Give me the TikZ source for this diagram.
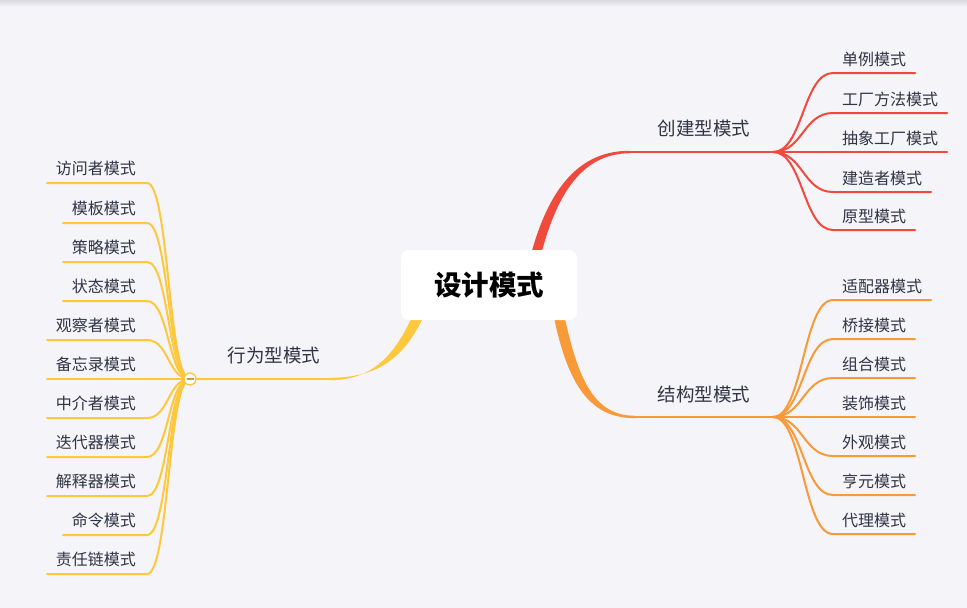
\documentclass[tikz,border=0pt]{standalone}
\usepackage{fontspec}
\newfontfamily\cjk{Noto Sans CJK SC}
\definecolor{bgc}{HTML}{F5F4F9}
\definecolor{redc}{HTML}{EF4A3C}
\definecolor{orangec}{HTML}{F89A38}
\definecolor{yellowc}{HTML}{FEC83C}
\definecolor{txtc}{HTML}{2E3544}
\definecolor{shadowc}{HTML}{DCDAE1}
\begin{document}
\begin{tikzpicture}[x=1pt,y=-1pt,
  leaflbl/.style={inner sep=0pt,font=\cjk\fontsize{16}{19}\selectfont,text=txtc},
  toplbl/.style={inner sep=0pt,font=\cjk\fontsize{18.5}{22}\selectfont,text=txtc},
  leafline/.style={line width=2pt,line cap=round}]
\useasboundingbox (0,0) rectangle (967,608);
\fill[bgc] (0,0) rectangle (967,608);
\shade[top color=shadowc,bottom color=bgc] (0,0) rectangle (967,7);

% ---------- main tapered branches ----------
\fill[redc] (523,290) .. controls (540,198) and (573,150.5) .. (630,150.8)
  -- (630,153.2) .. controls (577,153.5) and (550,202) .. (533,290) -- cycle;
\fill[orangec] (548,285) .. controls (562,372) and (582,418.2) .. (635,418.2)
  -- (635,415.8) .. controls (588,415.8) and (574,368) .. (558,285) -- cycle;
\fill[yellowc] (425,283) .. controls (405,342) and (382,380.2) .. (330,380.2)
  -- (330,377.8) .. controls (388,377.8) and (415,348) .. (435,287) -- cycle;

% ---------- central node ----------
\node[fill=white,rounded corners=8pt,minimum width=176pt,minimum height=70pt,
  font=\cjk\bfseries\fontsize{27.5}{32}\selectfont,text=black] (root) at (489,285) {设计模式};

% ---------- level 1 ----------
\coordinate (rs) at (625,152);
\coordinate (rj) at (773,152);
\coordinate (os) at (630,417);
\coordinate (oj) at (773,417);
\coordinate (ys) at (335,379);
\coordinate (yj) at (190,379);
\draw[redc,line width=2.2pt] (rs) -- (rj);
\draw[orangec,line width=2.2pt] (os) -- (oj);
\draw[yellowc,line width=2.2pt] (ys) -- (yj);
\node[toplbl] (cj) at (704,128) {创建型模式};
\node[toplbl] (jg) at (704,394) {结构型模式};
\node[toplbl] (xw) at (274,355) {行为型模式};

% ---------- red leaves ----------
\foreach \y/\e/\t [count=\i] in {73/915/单例模式,113/947/工厂方法模式,152/947/抽象工厂模式,192/931/建造者模式,230/915/原型模式}{
  \coordinate (rl\i) at (833,\y);
  \coordinate (re\i) at (\e,\y);
  \node[leaflbl,anchor=west] (rn\i) at (842,\y-13.5) {\t};
  \draw[leafline,redc] (rj) .. controls +(30,0) and +(-30,0) .. (rl\i) -- (re\i);
}

% ---------- orange leaves ----------
\foreach \y/\e/\t [count=\i] in {300/931/适配器模式,339/915/桥接模式,378/915/组合模式,417/915/装饰模式,456/915/外观模式,495/915/亨元模式,534/915/代理模式}{
  \coordinate (ol\i) at (833,\y);
  \coordinate (oe\i) at (\e,\y);
  \node[leaflbl,anchor=west] (on\i) at (842,\y-14) {\t};
  \draw[leafline,orangec] (oj) .. controls +(30,0) and +(-30,0) .. (ol\i) -- (oe\i);
}

% ---------- yellow leaves ----------
\foreach \y/\e/\t [count=\i] in {183/47/访问者模式,223/63/模板模式,262/63/策略模式,301/63/状态模式,340/47/观察者模式,379/47/备忘录模式,418/47/中介者模式,457/47/迭代器模式,496/47/解释器模式,535/63/命令模式,574/47/责任链模式}{
  \coordinate (yl\i) at (147,\y);
  \coordinate (ye\i) at (\e,\y);
  \node[leaflbl,anchor=east] (yn\i) at (136,\y-14.5) {\t};
  \draw[leafline,yellowc] (yj) .. controls +(-22,0) and +(22,0) .. (yl\i) -- (ye\i);
}

% collapse indicator
\node[circle,draw=yellowc,fill=white,line width=1.3pt,minimum size=12pt,inner sep=0pt] (yc) at (yj) {};
\draw[yellowc!80!black,line width=1.2pt] ([xshift=-3.5pt]yc.center) -- ([xshift=3.5pt]yc.center);
\end{tikzpicture}
\end{document}
